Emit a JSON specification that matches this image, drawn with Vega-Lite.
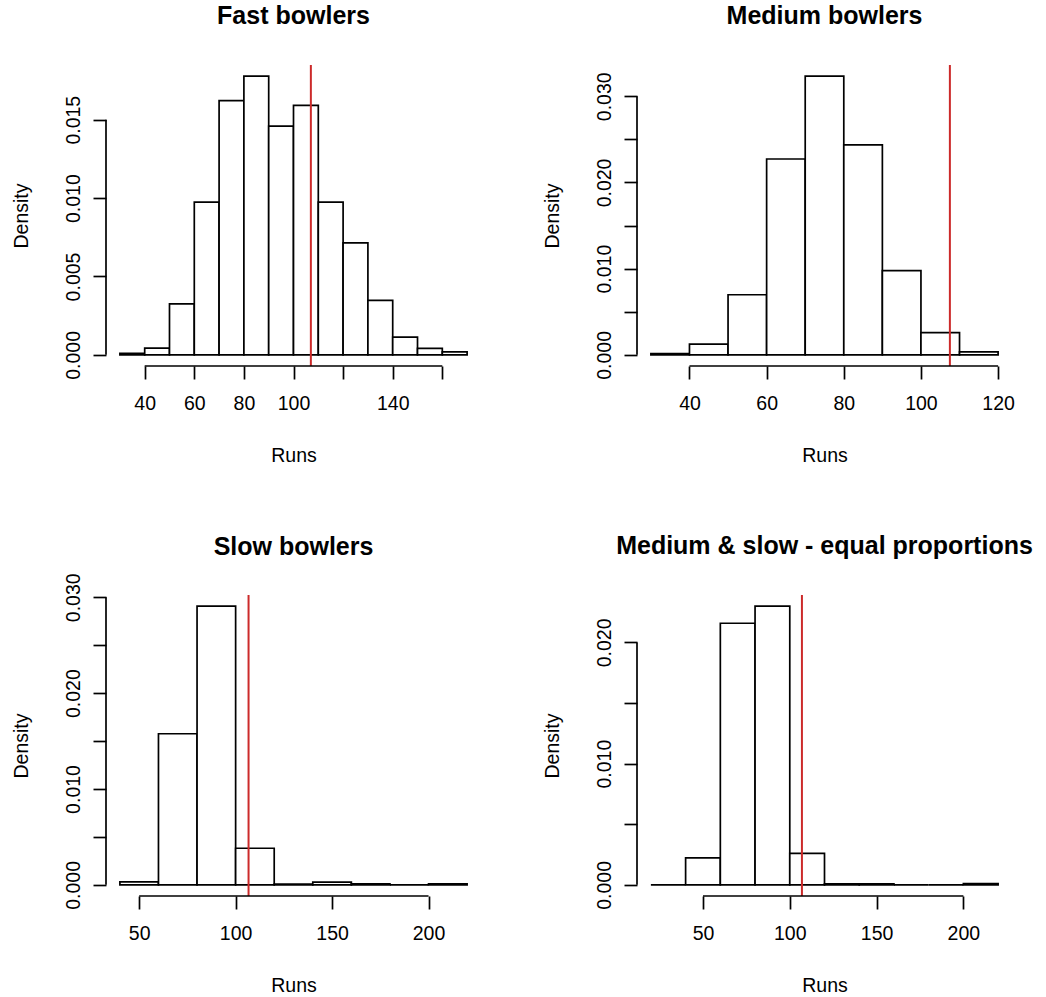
{
  "$schema": "https://vega.github.io/schema/vega-lite/v6.json",
  "background": "white",
  "padding": {"left": 11, "top": 4, "right": 5, "bottom": 5},
  "columns": 2,
  "bounds": "flush",
  "spacing": {"row": 229, "column": 156},
  "datasets": {
    "fast": [
      {"lo": 30, "hi": 40, "density": 0.0001},
      {"lo": 40, "hi": 50, "density": 0.00043},
      {"lo": 50, "hi": 60, "density": 0.00325},
      {"lo": 60, "hi": 70, "density": 0.00974},
      {"lo": 70, "hi": 80, "density": 0.01622},
      {"lo": 80, "hi": 90, "density": 0.01778},
      {"lo": 90, "hi": 100, "density": 0.01459},
      {"lo": 100, "hi": 110, "density": 0.01592},
      {"lo": 110, "hi": 120, "density": 0.00974},
      {"lo": 120, "hi": 130, "density": 0.00714},
      {"lo": 130, "hi": 140, "density": 0.00348},
      {"lo": 140, "hi": 150, "density": 0.00113},
      {"lo": 150, "hi": 160, "density": 0.00041},
      {"lo": 160, "hi": 170, "density": 0.00019}
    ],
    "medium": [
      {"lo": 30, "hi": 40, "density": 0.00015},
      {"lo": 40, "hi": 50, "density": 0.00125},
      {"lo": 50, "hi": 60, "density": 0.00697},
      {"lo": 60, "hi": 70, "density": 0.02272},
      {"lo": 70, "hi": 80, "density": 0.03233},
      {"lo": 80, "hi": 90, "density": 0.02436},
      {"lo": 90, "hi": 100, "density": 0.00977},
      {"lo": 100, "hi": 110, "density": 0.00257},
      {"lo": 110, "hi": 120, "density": 0.00035}
    ],
    "slow": [
      {"lo": 40, "hi": 60, "density": 0.00032},
      {"lo": 60, "hi": 80, "density": 0.01576},
      {"lo": 80, "hi": 100, "density": 0.02907},
      {"lo": 100, "hi": 120, "density": 0.00382},
      {"lo": 120, "hi": 140, "density": 0.00007},
      {"lo": 140, "hi": 160, "density": 0.00028},
      {"lo": 160, "hi": 180, "density": 0.0001},
      {"lo": 180, "hi": 200, "density": 0},
      {"lo": 200, "hi": 220, "density": 0.0001}
    ],
    "medslow": [
      {"lo": 20, "hi": 40, "density": 0},
      {"lo": 40, "hi": 60, "density": 0.00222},
      {"lo": 60, "hi": 80, "density": 0.02158},
      {"lo": 80, "hi": 100, "density": 0.02299},
      {"lo": 100, "hi": 120, "density": 0.0026},
      {"lo": 120, "hi": 140, "density": 0.00008},
      {"lo": 140, "hi": 160, "density": 0.00008},
      {"lo": 160, "hi": 180, "density": 0},
      {"lo": 180, "hi": 200, "density": 0},
      {"lo": 200, "hi": 220, "density": 0.0001}
    ]
  },
  "concat": [
    {
      "width": 375, "height": 301,
      "title": {"text": "Fast bowlers"},
      "layer": [
        {
          "data": {"name": "fast"},
          "mark": {"type": "rect", "fill": "white", "stroke": "black", "strokeWidth": 1.7},
          "encoding": {
            "x": {"field": "lo", "type": "quantitative", "title": "Runs",
                  "scale": {"domain": [24.4, 175.6], "nice": false, "zero": false},
                  "axis": {"values": [40, 60, 80, 100, 120, 140, 160], "labelExpr": "datum.value == 120 || datum.value == 160 ? '' : datum.label"}},
            "x2": {"field": "hi"},
            "y": {"field": "density", "type": "quantitative", "title": "Density",
                  "scale": {"domain": [-0.000711, 0.01849], "nice": false, "zero": false},
                  "axis": {"values": [0, 0.005, 0.01, 0.015], "format": ".3f"}},
            "y2": {"datum": 0}
          }
        },
        {
          "data": {"values": [{"runs": 107}]},
          "mark": {"type": "rule", "color": "#cc2a2a", "strokeWidth": 2},
          "encoding": {"x": {"field": "runs", "type": "quantitative"}}
        },
        {
          "data": {"values": [{}]},
          "mark": {"type": "rule", "color": "black", "strokeWidth": 1.7},
          "encoding": {"x": {"datum": 40}, "x2": {"datum": 160}, "y": {"datum": -0.000711}}
        },
        {
          "data": {"values": [{}]},
          "mark": {"type": "rule", "color": "black", "strokeWidth": 1.7},
          "encoding": {"x": {"datum": 24.4}, "y": {"datum": 0}, "y2": {"datum": 0.015}}
        }
      ]
    },
    {
      "width": 375, "height": 301,
      "title": {"text": "Medium bowlers"},
      "layer": [
        {
          "data": {"name": "medium"},
          "mark": {"type": "rect", "fill": "white", "stroke": "black", "strokeWidth": 1.7},
          "encoding": {
            "x": {"field": "lo", "type": "quantitative", "title": "Runs",
                  "scale": {"domain": [26.4, 123.6], "nice": false, "zero": false},
                  "axis": {"values": [40, 60, 80, 100, 120]}},
            "x2": {"field": "hi"},
            "y": {"field": "density", "type": "quantitative", "title": "Density",
                  "scale": {"domain": [-0.001293, 0.033623], "nice": false, "zero": false},
                  "axis": {"values": [0, 0.005, 0.01, 0.015, 0.02, 0.025, 0.03], "format": ".3f", "labelExpr": "round(datum.value * 1000) % 10 == 0 ? datum.label : ''"}},
            "y2": {"datum": 0}
          }
        },
        {
          "data": {"values": [{"runs": 107.5}]},
          "mark": {"type": "rule", "color": "#cc2a2a", "strokeWidth": 2},
          "encoding": {"x": {"field": "runs", "type": "quantitative"}}
        },
        {
          "data": {"values": [{}]},
          "mark": {"type": "rule", "color": "black", "strokeWidth": 1.7},
          "encoding": {"x": {"datum": 40}, "x2": {"datum": 120}, "y": {"datum": -0.001293}}
        },
        {
          "data": {"values": [{}]},
          "mark": {"type": "rule", "color": "black", "strokeWidth": 1.7},
          "encoding": {"x": {"datum": 26.4}, "y": {"datum": 0}, "y2": {"datum": 0.03}}
        }
      ]
    },
    {
      "width": 375, "height": 301,
      "title": {"text": "Slow bowlers", "offset": 13},
      "layer": [
        {
          "data": {"name": "slow"},
          "mark": {"type": "rect", "fill": "white", "stroke": "black", "strokeWidth": 1.7},
          "encoding": {
            "x": {"field": "lo", "type": "quantitative", "title": "Runs",
                  "scale": {"domain": [32.8, 227.2], "nice": false, "zero": false},
                  "axis": {"values": [50, 100, 150, 200]}},
            "x2": {"field": "hi"},
            "y": {"field": "density", "type": "quantitative", "title": "Density",
                  "scale": {"domain": [-0.001163, 0.030233], "nice": false, "zero": false},
                  "axis": {"values": [0, 0.005, 0.01, 0.015, 0.02, 0.025, 0.03], "format": ".3f", "labelExpr": "round(datum.value * 1000) % 10 == 0 ? datum.label : ''"}},
            "y2": {"datum": 0}
          }
        },
        {
          "data": {"values": [{"runs": 106.7}]},
          "mark": {"type": "rule", "color": "#cc2a2a", "strokeWidth": 2},
          "encoding": {"x": {"field": "runs", "type": "quantitative"}}
        },
        {
          "data": {"values": [{}]},
          "mark": {"type": "rule", "color": "black", "strokeWidth": 1.7},
          "encoding": {"x": {"datum": 50}, "x2": {"datum": 200}, "y": {"datum": -0.001163}}
        },
        {
          "data": {"values": [{}]},
          "mark": {"type": "rule", "color": "black", "strokeWidth": 1.7},
          "encoding": {"x": {"datum": 32.8}, "y": {"datum": 0}, "y2": {"datum": 0.03}}
        }
      ]
    },
    {
      "width": 375, "height": 301,
      "title": {"text": "Medium & slow - equal proportions"},
      "layer": [
        {
          "data": {"name": "medslow"},
          "mark": {"type": "rect", "fill": "white", "stroke": "black", "strokeWidth": 1.7},
          "encoding": {
            "x": {"field": "lo", "type": "quantitative", "title": "Runs",
                  "scale": {"domain": [12, 228], "nice": false, "zero": false},
                  "axis": {"values": [50, 100, 150, 200]}},
            "x2": {"field": "hi"},
            "y": {"field": "density", "type": "quantitative", "title": "Density",
                  "scale": {"domain": [-0.00092, 0.02391], "nice": false, "zero": false},
                  "axis": {"values": [0, 0.005, 0.01, 0.015, 0.02], "format": ".3f", "labelExpr": "round(datum.value * 1000) % 10 == 0 ? datum.label : ''"}},
            "y2": {"datum": 0}
          }
        },
        {
          "data": {"values": [{"runs": 107}]},
          "mark": {"type": "rule", "color": "#cc2a2a", "strokeWidth": 2},
          "encoding": {"x": {"field": "runs", "type": "quantitative"}}
        },
        {
          "data": {"values": [{}]},
          "mark": {"type": "rule", "color": "black", "strokeWidth": 1.7},
          "encoding": {"x": {"datum": 50}, "x2": {"datum": 200}, "y": {"datum": -0.00092}}
        },
        {
          "data": {"values": [{}]},
          "mark": {"type": "rule", "color": "black", "strokeWidth": 1.7},
          "encoding": {"x": {"datum": 12}, "y": {"datum": 0}, "y2": {"datum": 0.02}}
        }
      ]
    }
  ],
  "config": {
    "font": "Liberation Sans",
    "view": {"stroke": null},
    "axis": {
      "domain": false, "grid": false, "ticks": true,
      "tickColor": "black", "tickWidth": 1.7, "tickSize": 13,
      "labelFont": "Liberation Sans", "labelFontSize": 19.5, "labelColor": "black",
      "titleFont": "Liberation Sans", "titleFontSize": 19.5, "titleFontWeight": "normal", "titleColor": "black",
      "labelOverlap": false
    },
    "axisX": {"labelPadding": 15, "titlePadding": 34},
    "axisY": {"labelAngle": -90, "labelAlign": "center", "labelBaseline": "alphabetic", "labelPadding": 14, "titlePadding": 32},
    "title": {"font": "Liberation Sans", "fontSize": 25, "fontWeight": "bold", "color": "black", "offset": 35, "baseline": "alphabetic", "frame": "group", "anchor": "middle"}
  }
}
